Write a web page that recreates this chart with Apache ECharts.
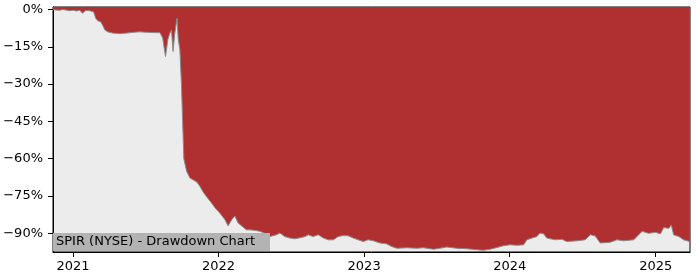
<!DOCTYPE html>
<html>
<head>
<meta charset="utf-8">
<script src="https://cdn.jsdelivr.net/npm/echarts@6/dist/echarts.min.js"></script>
<style>html,body{margin:0;padding:0;background:#fff}#c{width:700px;height:280px}</style>
</head>
<body>
<div id="c"></div>
<script>
const dates = ['2020-11-12','2020-11-19','2020-11-29','2020-12-07','2020-12-14','2020-12-24','2021-01-01','2021-01-10','2021-01-18','2021-01-25','2021-02-02','2021-02-12','2021-02-22','2021-02-27','2021-03-04','2021-03-12','2021-03-17','2021-03-22','2021-03-29','2021-04-11','2021-04-28','2021-05-16','2021-05-31','2021-06-17','2021-07-07','2021-07-25','2021-08-07','2021-08-14','2021-08-21','2021-08-27','2021-09-01','2021-09-05','2021-09-09','2021-09-13','2021-09-19','2021-09-22','2021-09-26','2021-09-30','2021-10-03','2021-10-06','2021-10-13','2021-10-21','2021-10-29','2021-11-07','2021-11-15','2021-11-23','2021-12-02','2021-12-14','2021-12-23','2022-01-04','2022-01-17','2022-01-25','2022-02-03','2022-02-11','2022-02-19','2022-02-28','2022-03-12','2022-03-21','2022-04-02','2022-04-15','2022-04-27','2022-05-10','2022-05-26','2022-06-04','2022-06-16','2022-06-29','2022-07-11','2022-07-24','2022-08-06','2022-08-14','2022-08-26','2022-09-08','2022-09-21','2022-10-03','2022-10-16','2022-10-28','2022-11-10','2022-11-22','2022-12-05','2022-12-17','2022-12-30','2023-01-11','2023-01-24','2023-02-10','2023-02-26','2023-03-11','2023-03-24','2023-04-18','2023-05-13','2023-05-30','2023-06-24','2023-07-10','2023-07-27','2023-08-21','2023-09-15','2023-10-11','2023-10-27','2023-11-13','2023-11-30','2023-12-16','2024-01-02','2024-01-19','2024-02-05','2024-02-13','2024-02-26','2024-03-09','2024-03-17','2024-03-26','2024-04-03','2024-04-24','2024-05-11','2024-05-23','2024-06-18','2024-07-08','2024-07-21','2024-08-02','2024-08-15','2024-09-09','2024-09-26','2024-10-12','2024-11-07','2024-11-28','2024-12-14','2024-12-31','2025-01-13','2025-01-21','2025-02-03','2025-02-09','2025-02-15','2025-02-28','2025-03-12','2025-03-27'];
const drawdown = [0,-0.2,-0.3,0,-0.2,-0.5,-0.3,-0.6,-0.3,-1.5,-0.4,-0.5,-1.0,-3.5,-4.5,-5.0,-6.5,-8.2,-9.0,-9.5,-9.7,-9.5,-9.2,-9.0,-9.2,-9.3,-9.3,-11.5,-18.9,-12,-9.5,-8.2,-16.9,-10,-3.5,-12,-16,-30,-45,-60,-65,-67.7,-68.5,-69.3,-71,-73.3,-75.3,-77.7,-79.7,-81.8,-84.5,-87,-84.5,-83,-85.8,-87,-88.6,-88.6,-88.8,-89.2,-90.0,-91.3,-90.6,-89.9,-91.3,-91.9,-92.2,-91.8,-91.3,-90.6,-91.3,-90.6,-91.9,-92.6,-92.6,-91.3,-90.9,-91.0,-91.9,-92.6,-93.3,-92.6,-93.0,-93.9,-94.2,-95.3,-96,-95.8,-96,-95.8,-96.4,-96,-95.5,-96,-96.2,-96.6,-96.8,-96.4,-95.7,-95,-94.6,-94.8,-94.6,-92.6,-91.9,-91.3,-89.9,-90.2,-91.9,-92.6,-92.4,-93.3,-93.0,-92.6,-90.6,-91.0,-93.9,-93.6,-92.6,-93.0,-92.6,-89.2,-90.0,-89.6,-90.2,-87.7,-88.0,-86.6,-90.6,-91.3,-92.6,-93.3];
const yTicks = [0,-15,-30,-45,-60,-75,-90];
const xTickYears = ['2021','2022','2023','2024','2025'];
const title = 'SPIR (NYSE) - Drawdown Chart';

const ts = s => +new Date(s + 'T00:00:00Z');
const chart = echarts.init(document.getElementById('c'), null, {renderer:'canvas'});
const xTickVals = xTickYears.map(y => ts(y + '-01-01'));
const fontFam = 'DejaVu Sans';
chart.setOption({
  animation: false,
  grid: {left:53, top:7, right:10, bottom:28, show:true, backgroundColor:'#ececec', borderColor:'#000', borderWidth:1},
  xAxis: {
    type:'value',
    min: ts('2020-11-12'),
    max: ts('2025-03-28'),
    axisLine:{show:true, onZero:false, lineStyle:{color:'#000', width:1}},
    axisTick:{show:true, length:5, lineStyle:{color:'#000'}, customValues: xTickVals},
    axisLabel:{color:'#000', fontSize:13, fontFamily:fontFam, margin:8, customValues: xTickVals,
      formatter: v => String(new Date(v).getUTCFullYear())},
    splitLine:{show:false}
  },
  yAxis: {
    type:'value', min:-97.5, max:1,
    axisLine:{show:true, lineStyle:{color:'#000', width:1}},
    axisTick:{show:true, length:5, lineStyle:{color:'#000'}, customValues: yTicks},
    axisLabel:{color:'#000', fontSize:13, fontFamily:fontFam, margin:10, customValues: yTicks,
      formatter: v => (v < 0 ? '\u2212' + (-v) : v) + '%'},
    splitLine:{show:false}
  },
  series: [{
    type:'line',
    data: dates.map((d,i) => [ts(d), drawdown[i]]),
    showSymbol:false,
    symbol:'none',
    lineStyle:{color:'#8a8a8a', width:1},
    areaStyle:{color:'#b03031', opacity:1, origin:'end'}
  }],
  graphic: [{
    type:'text', left:53, top:233, z:100,
    style:{text:title, fill:'#000', font:'13px "DejaVu Sans"', backgroundColor:'#b3b3b3', padding:[2,3,3,3], width:211}
  }]
});
</script>
</body>
</html>
